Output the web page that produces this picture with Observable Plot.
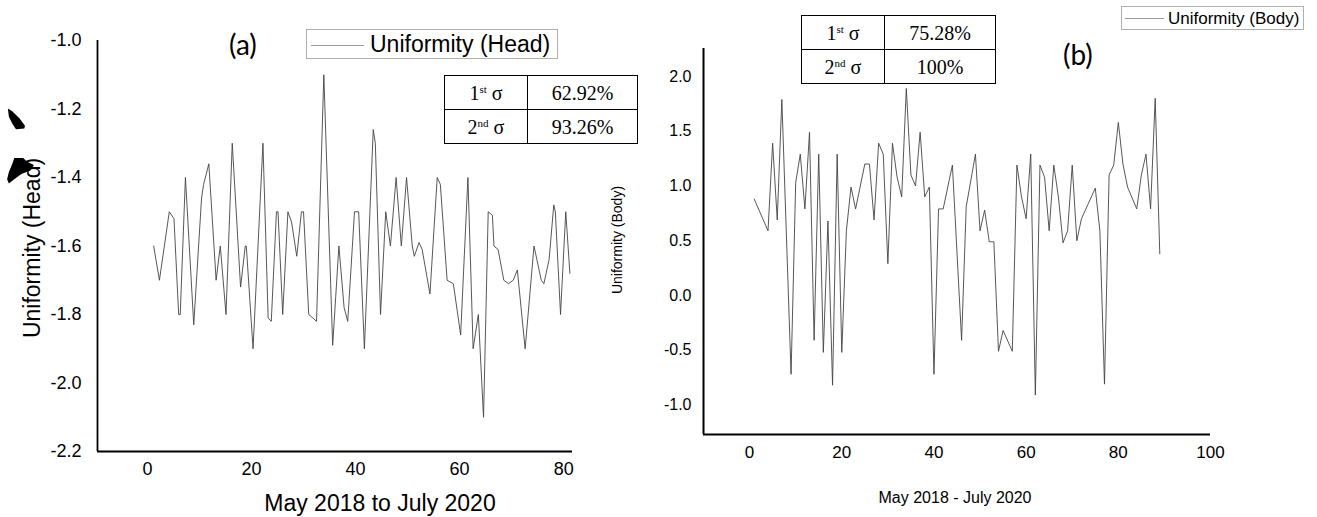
<!DOCTYPE html>
<html><head><meta charset="utf-8">
<script src="https://cdn.jsdelivr.net/npm/d3@7"></script>
<script src="https://cdn.jsdelivr.net/npm/@observablehq/plot@0.6"></script>
<style>
body{margin:0;background:#fff;}
#wrap{position:relative;width:1317px;height:517px;overflow:hidden;font-family:"Liberation Sans",Arial,sans-serif;color:#000;}
.abs{position:absolute;white-space:nowrap;line-height:1;}
.rot{position:absolute;white-space:nowrap;line-height:1;transform:translate(-50%,-50%) rotate(-90deg);}
table.sig{position:absolute;border-collapse:collapse;font-family:"Liberation Serif","Times New Roman",serif;font-size:20px;table-layout:fixed;}
table.sig td{border:1.5px solid #000;text-align:center;padding:0;line-height:1;}
table.sig sup{font-size:11px;vertical-align:top;line-height:1;position:relative;top:1px;}
.legend{position:absolute;border:1px solid #b0b0b0;box-sizing:border-box;background:#fff;}
.legend .ln{position:absolute;height:0;border-top:1px solid #999;}
.legend .tx{position:absolute;white-space:nowrap;line-height:1;}
</style></head>
<body><div id="wrap"></div>
<script>
// ---- Data: (a) Uniformity (Head)
const headX = [1.2,2.3,4.2,5.1,6,6.3,7.3,8.9,10.4,10.8,11.8,13.2,14,15.1,16.3,17.9,18.8,19,20.3,22.2,23.2,23.8,24.8,25.1,26,27,27.7,28.7,29.6,30,31,31.8,32.5,33.9,35.6,36.8,37.8,38.5,39.8,40.6,41.7,43.4,43.8,44.8,45.8,46.7,47.8,48.8,49.8,50.9,51.3,52.2,52.8,54.3,55.7,56.3,57.6,58.8,60.2,61.6,62.6,63.6,64.6,65.5,66.3,66.6,67.4,68.5,69.4,70.3,71.1,72.6,74.3,75.7,76.2,77.2,78.1,78.4,79.4,80.4,81.2];
const headY = [-1.60,-1.70,-1.50,-1.52,-1.80,-1.80,-1.40,-1.83,-1.46,-1.42,-1.36,-1.70,-1.60,-1.80,-1.30,-1.72,-1.60,-1.60,-1.90,-1.30,-1.81,-1.82,-1.50,-1.50,-1.80,-1.50,-1.53,-1.63,-1.50,-1.50,-1.80,-1.81,-1.82,-1.10,-1.89,-1.60,-1.78,-1.82,-1.50,-1.50,-1.90,-1.26,-1.30,-1.80,-1.50,-1.60,-1.40,-1.60,-1.40,-1.60,-1.63,-1.59,-1.61,-1.74,-1.40,-1.42,-1.70,-1.71,-1.86,-1.40,-1.90,-1.80,-2.10,-1.50,-1.51,-1.60,-1.61,-1.70,-1.71,-1.70,-1.67,-1.90,-1.60,-1.70,-1.71,-1.64,-1.48,-1.50,-1.80,-1.50,-1.68];
const headYTicks = [-1.0,-1.2,-1.4,-1.6,-1.8,-2.0,-2.2];
const headXTicks = [0,20,40,60,80];
const headStats = [["1","st","62.92%"],["2","nd","93.26%"]];

// ---- Data: (b) Uniformity (Body)
const bodyX = [1,4,5,6,7,9,10,11,12,13,14,15,16,17,18,19,20,21,22,23,25,26,27,28,29,30,31,32,33,34,35,36,37,38,39,40,41,42,44,46,47,49,50,51,52,53,54,55,57,58,59,60,61,62,63,64,65,66,67,68,69,70,71,72,75,76,77,78,79,80,81,82,84,85,86,87,88,89];
const bodyY = [0.88,0.59,1.39,0.69,1.79,-0.72,1.03,1.29,0.79,1.49,-0.41,1.29,-0.52,0.68,-0.82,1.29,-0.52,0.59,0.99,0.79,1.20,1.20,0.69,1.39,1.29,0.29,1.39,1.08,0.90,1.89,1.10,1.00,1.49,0.90,0.99,-0.72,0.79,0.79,1.19,-0.41,0.81,1.29,0.59,0.78,0.49,0.49,-0.51,-0.32,-0.51,1.19,0.90,0.70,1.29,-0.91,1.19,1.08,0.59,1.19,0.90,0.48,0.59,1.19,0.50,0.70,0.98,0.59,-0.81,1.10,1.19,1.58,1.20,0.99,0.79,1.10,1.29,0.79,1.80,0.38];
const bodyYTicks = [2.0,1.5,1.0,0.5,0.0,-0.5,-1.0];
const bodyXTicks = [0,20,40,60,80,100];
const bodyStats = [["1","st","75.28%"],["2","nd","100%"]];

const wrap = document.getElementById("wrap");
function add(html){ wrap.insertAdjacentHTML("beforeend", html); }
function place(svg, left, top){ svg.style.position="absolute"; svg.style.left=left+"px"; svg.style.top=top+"px"; wrap.appendChild(svg); }
function fontAxis(svg, prefix, size){ d3.select(svg).selectAll(`[aria-label^="${prefix}"]`).attr("font-size", size); }

const headData = headX.map((x,i)=>({x, y: headY[i]}));
const bodyData = bodyX.map((x,i)=>({x, y: bodyY[i]}));

// ---- Left chart
const hx = [-9.6, 81.7], hy = [-2.2, -1.0];
const left = Plot.plot({
  width: 600, height: 517,
  marginLeft: 97, marginRight: 28, marginTop: 40, marginBottom: 66,
  style: {fontFamily: "Liberation Sans", fontSize: "18px", background: "transparent", color: "#000"},
  x: {domain: hx, ticks: headXTicks, tickSize: 0, tickPadding: 11, label: null},
  y: {domain: hy, ticks: headYTicks, tickSize: 0, tickPadding: 16, tickFormat: d => d.toFixed(1), label: null},
  marks: [
    Plot.ruleX([hx[0]], {stroke: "#000", strokeWidth: 1.8}),
    Plot.ruleY([hy[0]], {stroke: "#000", strokeWidth: 1.8}),
    Plot.line(headData, {x: "x", y: "y", stroke: "#444", strokeWidth: 0.9})
  ]
});
place(left, 0, 0);

// ---- Right chart
const bx = [-10, 100], by = [-1.27, 2.255];
const right = Plot.plot({
  width: 717, height: 517,
  marginLeft: 103, marginRight: 107, marginTop: 48, marginBottom: 83,
  style: {fontFamily: "Liberation Sans", fontSize: "16px", background: "transparent", color: "#000"},
  x: {domain: bx, ticks: bodyXTicks, tickSize: 0, tickPadding: 11, label: null},
  y: {domain: by, ticks: bodyYTicks, tickSize: 0, tickPadding: 12, tickFormat: d => d.toFixed(1), label: null},
  marks: [
    Plot.ruleX([bx[0]], {stroke: "#000", strokeWidth: 2}),
    Plot.ruleY([by[0]], {stroke: "#000", strokeWidth: 2}),
    Plot.line(bodyData, {x: "x", y: "y", stroke: "#444", strokeWidth: 0.9})
  ]
});
fontAxis(right, "x-axis", 17);
place(right, 600, 0);

// ---- Texts
add(`<div class="abs" style="left:229px;top:30px;font-family:Lato,'Open Sans',sans-serif;font-size:28px;">(a)</div>`);
add(`<div class="abs" style="left:1063px;top:40px;font-family:Lato,'Open Sans',sans-serif;font-size:28px;">(b)</div>`);
add(`<div class="rot" style="left:32px;top:248px;font-size:23px;">Uniformity (Head)</div>`);
add(`<div class="abs" style="left:380px;top:492px;transform:translateX(-50%);font-size:23px;">May 2018 to July 2020</div>`);
add(`<div class="rot" style="left:617px;top:240px;font-size:14px;">Uniformity (Body)</div>`);
add(`<div class="abs" style="left:955px;top:490px;transform:translateX(-50%);font-size:16px;">May 2018 - July 2020</div>`);

// ---- Legends
add(`<div class="legend" style="left:306px;top:29px;width:252px;height:30px;"><div class="ln" style="left:4px;width:53px;top:15px;"></div><div class="tx" style="left:63px;top:3px;font-size:23px;">Uniformity (Head)</div></div>`);
add(`<div class="legend" style="left:1121px;top:6px;width:183px;height:24px;"><div class="ln" style="left:3px;width:39px;top:11px;"></div><div class="tx" style="left:46px;top:3px;font-size:17px;">Uniformity (Body)</div></div>`);

// ---- Sigma tables
function table(stats, l, t, w1, w2, h){
  const rows = stats.map(([n,s,v]) => `<tr style="height:${h}px"><td style="width:${w1}px">${n}<sup>${s}</sup> σ</td><td style="width:${w2}px">${v}</td></tr>`).join("");
  add(`<table class="sig" style="left:${l}px;top:${t}px;">${rows}</table>`);
}
table(headStats, 444, 75, 82, 109, 34);
table(bodyStats, 801, 15, 82, 110, 34);

// ---- scan artifacts at the left edge
add(`<svg class="abs" style="left:0;top:0" width="40" height="200"><path d="M7.9,108.6 L12.5,111.4 L19.6,118.6 L25,125.7 L24.3,128.6 L16,129.3 L12.5,123.9 L8.9,116.8Z" fill="#000"/><path d="M14.3,157.9 L23.2,157.9 L26.8,161.4 L33.9,165 L30.4,170.4 L21.4,173.9 L14.3,179.3 L8.9,183.6 L7.1,179.3 L8.9,172.1 L12.5,163.2Z" fill="#000"/></svg>`);
</script>
</body></html>
